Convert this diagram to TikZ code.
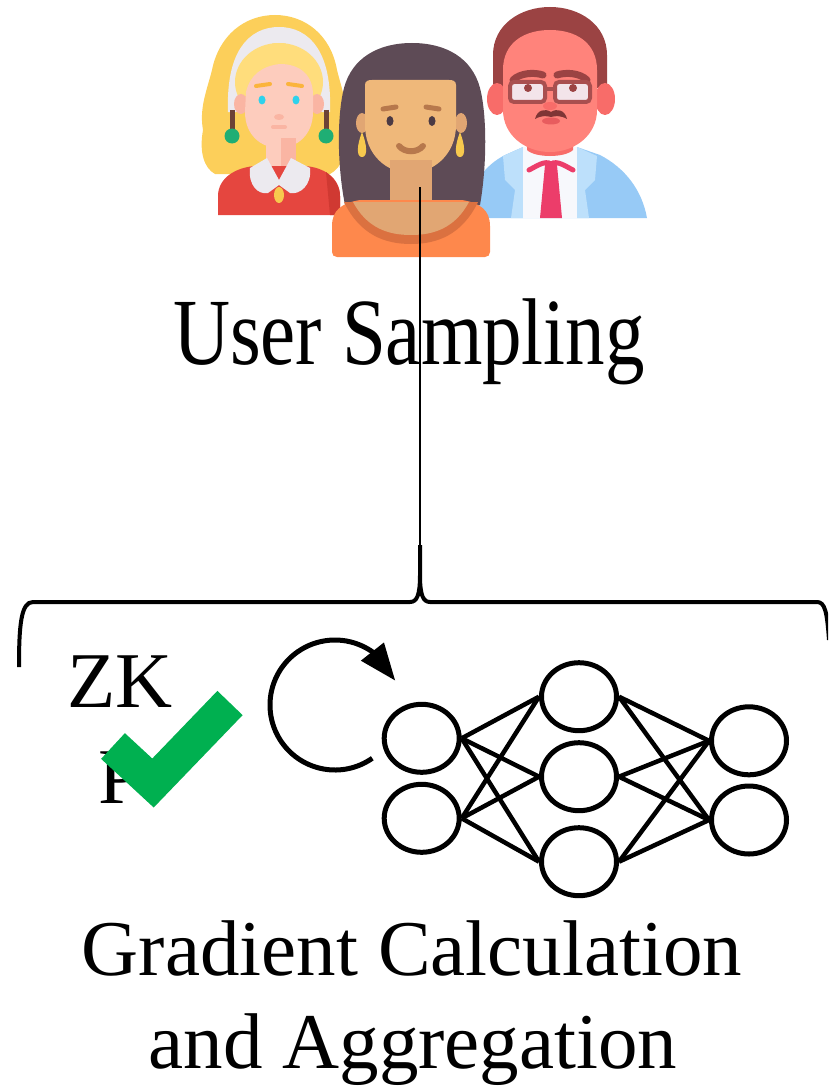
\documentclass[tikz,border=0pt]{standalone}
\usepackage{fontspec}
\setmainfont{Liberation Serif}
\usetikzlibrary{shapes.geometric,arrows.meta,bending}

\definecolor{hairYel}{HTML}{FCCF5A}
\definecolor{hairLight}{HTML}{FFDD7C}
\definecolor{bandGrey}{HTML}{ECEAEF}
\definecolor{skinA}{HTML}{FDCCBD}
\definecolor{skinB}{HTML}{FAB5A3}
\definecolor{shirtRed}{HTML}{E5463F}
\definecolor{shirtRedDk}{HTML}{D03932}
\definecolor{eyeCyan}{HTML}{2ED2EC}
\definecolor{browYel}{HTML}{FBB43C}
\definecolor{earBar}{HTML}{6E4236}
\definecolor{earGreen}{HTML}{1FAE74}
\definecolor{goldY}{HTML}{F7C94E}
\definecolor{hairDk}{HTML}{5E4B56}
\definecolor{skinMid}{HTML}{EFB87A}
\definecolor{skinMidB}{HTML}{E1A673}
\definecolor{shirtOr}{HTML}{FE884C}
\definecolor{neckOr}{HTML}{DB7140}
\definecolor{eyeDk}{HTML}{4B3A44}
\definecolor{browMid}{HTML}{B7784C}
\definecolor{hairBr}{HTML}{9B4343}
\definecolor{skinMan}{HTML}{FF837B}
\definecolor{skinManB}{HTML}{F86C69}
\definecolor{glassFr}{HTML}{A94F4F}
\definecolor{glassLens}{HTML}{F3E4EA}
\definecolor{mustache}{HTML}{7F3535}
\definecolor{mouthRed}{HTML}{E85C5E}
\definecolor{jacketBl}{HTML}{97CAF6}
\definecolor{lapelBl}{HTML}{BDE0FB}
\definecolor{shirtWh}{HTML}{F7F8FC}
\definecolor{tieRed}{HTML}{EC3D6A}
\definecolor{checkGreen}{HTML}{00B050}

\begin{document}
\begin{tikzpicture}[x=1pt,y=-1pt,
  neuron/.style={ellipse, draw, line width=5pt, minimum width=75pt, minimum height=68pt, inner sep=0pt},
  synapse/.style={line width=4.5pt},
  bigtext/.style={font=\fontsize{79}{93}\selectfont, inner sep=0pt, anchor=base}]
\useasboundingbox (0,0) rectangle (828,1089);
\clip (0,0) rectangle (828,1089);

% blonde woman
\fill[hairYel] (203,130) .. controls (199,108) and (207,90) .. (212,70) .. controls (219,35) and (245,15) .. (275,15) .. controls (305,15) and (331,35) .. (337,70) .. controls (342,90) and (350,110) .. (345,135) .. controls (347,152) and (342,168) .. (330,174) -- (215,174) .. controls (204,168) and (199,152) .. (203,130) -- cycle;
\draw[bandGrey, line width=16pt] (236,112) .. controls (234,55) and (254,35) .. (279,35) .. controls (304,35) and (324,55) .. (322,112);
\fill[hairLight] (279,82) ellipse [x radius=44, y radius=39];
\fill[skinB] (241,104) ellipse [x radius=7, y radius=10];
\fill[skinB] (317,104) ellipse [x radius=7, y radius=10];
\fill[skinA] (246,92) .. controls (250,75) and (262,66) .. (280,64) .. controls (300,64) and (313,75) .. (313,95) -- (313,112) .. controls (313,135) and (297,148) .. (279,148) .. controls (261,148) and (245,135) .. (245,112) -- cycle;
\fill[skinB] (266,138) rectangle (296,172);
\fill[skinA] (266,138) rectangle (281,172);
\fill[shirtRed] (218,215) -- (218,196) .. controls (218,178) and (236,167) .. (256,166) -- (304,166) .. controls (324,167) and (340,178) .. (340,196) -- (340,215) -- cycle;
\fill[shirtRedDk] (326,172) .. controls (336,180) and (340,188) .. (340,196) -- (340,215) -- (330,215) -- cycle;
\fill[bandGrey] (250,168) -- (267,158) -- (279,180) -- (291,158) -- (310,168) .. controls (312,185) and (300,195) .. (290,193) -- (279,185) -- (268,193) .. controls (258,195) and (248,185) .. (250,168) -- cycle;
\fill[goldY] (279,195) ellipse [x radius=5, y radius=8];
\fill[eyeCyan] (262,100) ellipse [x radius=3.5, y radius=4.5];
\fill[eyeCyan] (296,100) ellipse [x radius=3.5, y radius=4.5];
\draw[browYel, line width=4pt, line cap=round] (256,86) -- (270,84);
\draw[browYel, line width=4pt, line cap=round] (288,84) -- (302,86);
\fill[skinB] (279,117) ellipse [x radius=5, y radius=3];
\draw[skinB, line width=4pt, line cap=round] (273,127) -- (285,127);
\draw[earBar, line width=5pt] (232,110) -- (232,130);
\draw[earBar, line width=5pt] (326,110) -- (326,130);
\fill[earGreen] (232,136) circle [radius=7.5];
\fill[earGreen] (326,136) circle [radius=7.5];

% man with glasses
\fill[jacketBl] (460,218) .. controls (470,185) and (485,165) .. (505,155) -- (523,147) -- (577,147) -- (600,155) .. controls (625,168) and (642,190) .. (647,218) -- cycle;
\fill[lapelBl] (523,147) -- (503,156) -- (505,180) -- (515,190) -- (511,218) -- (523,218) -- cycle;
\fill[lapelBl] (577,147) -- (597,156) -- (595,180) -- (585,190) -- (589,218) -- (577,218) -- cycle;
\fill[shirtWh] (523,147) rectangle (577,218);
\fill[skinManB] (527,125) -- (573,125) -- (573,150) .. controls (565,158) and (535,158) .. (527,150) -- cycle;
\fill[tieRed] (545,165) -- (557,165) -- (562,218) -- (540,218) -- cycle;
\draw[tieRed, line width=5pt, line cap=round] (529,170) .. controls (537,166) and (545,160) .. (551,164) .. controls (557,160) and (565,166) .. (573,170);
\fill[hairBr] (493,88) -- (493,55) .. controls (493,25) and (520,7) .. (550,7) .. controls (580,7) and (607,25) .. (607,55) -- (607,88) -- cycle;
\fill[skinManB] (497,99) ellipse [x radius=10, y radius=16];
\fill[skinManB] (605,99) ellipse [x radius=10, y radius=16];
\fill[skinMan] (503,70) .. controls (503,42) and (525,30) .. (550,30) .. controls (575,30) and (597,42) .. (597,70) -- (597,110) .. controls (597,135) and (575,152) .. (550,152) .. controls (525,152) and (503,135) .. (503,110) -- cycle;
\draw[hairBr, line width=7pt, line cap=round] (513,80) .. controls (520,73) and (534,72) .. (543,75);
\draw[hairBr, line width=7pt, line cap=round] (557,75) .. controls (566,72) and (580,73) .. (587,80);
\draw[glassFr, fill=glassLens, line width=4pt, rounded corners=4pt] (510,82) rectangle (545,102);
\draw[glassFr, fill=glassLens, line width=4pt, rounded corners=4pt] (555,82) rectangle (590,102);
\draw[glassFr, line width=4pt] (545,89) -- (555,89);
\fill[hairBr] (528,88) circle [radius=4];
\fill[hairBr] (573,88) circle [radius=4];
\fill[skinManB] (550,106) ellipse [x radius=7, y radius=4];
\fill[mouthRed] (551,121) ellipse [x radius=9, y radius=3.5];
\fill[mustache] (535,119) .. controls (537,110) and (545,108) .. (551,112) .. controls (557,108) and (565,110) .. (567,119) .. controls (560,115) and (555,116) .. (551,117) .. controls (547,116) and (542,115) .. (535,119) -- cycle;

% woman with dark hair
\fill[hairDk] (345,205) .. controls (337,165) and (337,115) .. (344,88) .. controls (352,58) and (378,43) .. (412,43) .. controls (446,43) and (472,58) .. (480,88) .. controls (487,115) and (487,165) .. (480,205) -- cycle;
\fill[skinMidB] (362,123) ellipse [x radius=6, y radius=10];
\fill[skinMidB] (461,123) ellipse [x radius=6, y radius=10];
\fill[skinMid] (365,85) .. controls (365,81) and (368,80) .. (372,80) -- (449,80) .. controls (453,80) and (456,81) .. (456,85) -- (456,125) .. controls (456,155) and (433,173) .. (410,173) .. controls (387,173) and (365,155) .. (365,125) -- cycle;
\fill[skinMidB] (390,160) rectangle (432,215);
\fill[shirtOr] (332,252) -- (332,226) .. controls (332,210) and (342,203) .. (360,200) -- (462,200) .. controls (480,203) and (490,210) .. (490,226) -- (490,252) .. controls (490,255) and (488,257) .. (485,257) -- (337,257) .. controls (334,257) and (332,255) .. (332,252) -- cycle;
\fill[neckOr] (344,202) .. controls (360,235) and (385,244) .. (411,244) .. controls (437,244) and (462,235) .. (478,202) -- cycle;
\fill[skinMidB] (353,202) .. controls (367,228) and (388,235) .. (411,235) .. controls (434,235) and (455,228) .. (469,202) -- cycle;
\fill[eyeDk] (390,121) ellipse [x radius=3.5, y radius=5];
\fill[eyeDk] (432,121) ellipse [x radius=3.5, y radius=5];
\draw[browMid, line width=5pt, line cap=round] (383,109) -- (396,107);
\draw[browMid, line width=5pt, line cap=round] (426,107) -- (439,109);
\draw[browMid, line width=6pt, line cap=round] (399,146) .. controls (405,153) and (417,153) .. (423,146);
\fill[goldY] (362,132) .. controls (357,145) and (356,157) .. (362,157) .. controls (368,157) and (367,145) .. (362,132) -- cycle;
\fill[goldY] (460,132) .. controls (455,145) and (454,157) .. (460,157) .. controls (466,157) and (465,145) .. (460,132) -- cycle;

\coordinate (usertop) at (420,187);
\coordinate (bracetip) at (420,545);
\draw[line width=2pt] (usertop) -- (bracetip);
\draw[line width=4pt] (19,667) .. controls (19,625) and (21,602) .. (33,602) -- (410,602) .. controls (417,602) and (420,595) .. (420,575) -- (bracetip) -- (420,575) .. controls (420,595) and (423,602) .. (430,602) -- (817,602) .. controls (825,602) and (827,612) .. (829,640);

\node[bigtext] (sampling) at (409,364) {\scalebox{1}[1.2]{User Sampling}};

\node[bigtext] (zk) at (120,707) {ZK};
\node[bigtext] (zkp) at (120,803) {P};
\draw[checkGreen, line width=35pt] (113,746) -- (153,783) -- (230,703);

\draw[line width=5pt, -{Triangle[length=37pt, width=28pt, flex]}] (335,705) ++(55:65) arc [start angle=55, end angle=338, radius=65];

\node[neuron] (i1) at (421.7,738.3) {};
\node[neuron] (i2) at (421.7,818.3) {};
\node[neuron] (h1) at (579,696.7) {};
\node[neuron] (h2) at (579,776.7) {};
\node[neuron] (h3) at (579,861.7) {};
\node[neuron] (o1) at (749,740.8) {};
\node[neuron] (o2) at (749,820) {};
\foreach \a in {i1,i2}
  \foreach \b in {h1,h2,h3}
    \draw[synapse] (\a.east) -- (\b.west);
\foreach \a in {h1,h2,h3}
  \foreach \b in {o1,o2}
    \draw[synapse] (\a.east) -- (\b.west);

\node[bigtext] (gradtext) at (412,975) {Gradient Calculation};
\node[bigtext] (aggtext) at (413,1068) {and Aggregation};
\end{tikzpicture}
\end{document}
